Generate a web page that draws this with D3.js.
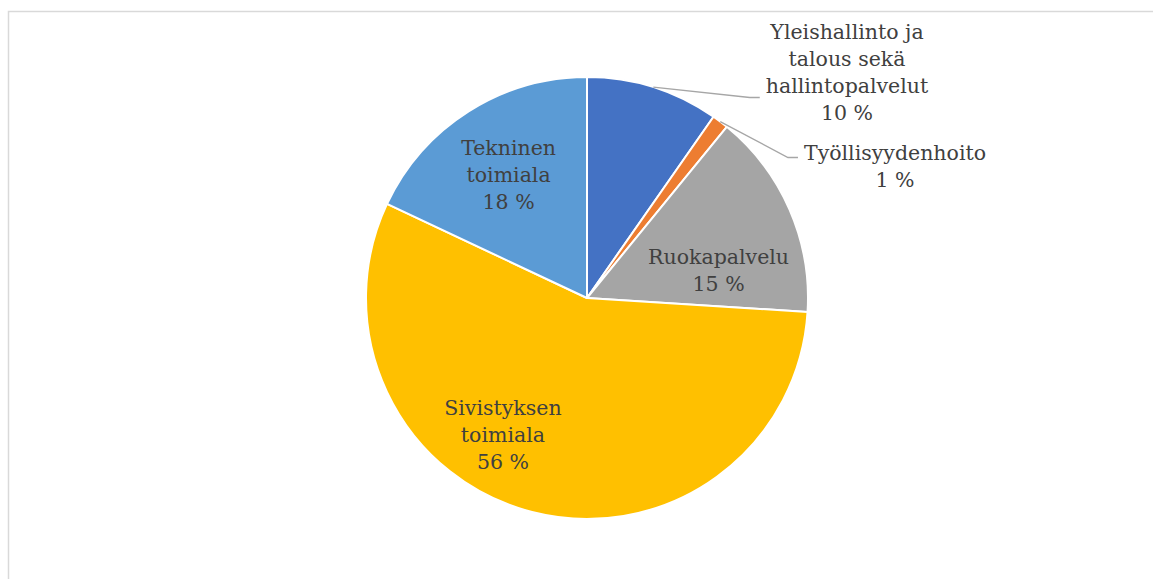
<!DOCTYPE html>
<html>
<head>
<meta charset="utf-8">
<script src="https://cdn.jsdelivr.net/npm/d3@7"></script>
<style>
  html, body { margin: 0; padding: 0; background: #fff; }
  svg { display: block; }
</style>
</head>
<body>
<svg id="chart" width="1153" height="579"></svg>
<script>
// data (share of total, %)
const categories = ["Yleishallinto ja talous sekä hallintopalvelut", "Työllisyydenhoito", "Ruokapalvelu", "Sivistyksen toimiala", "Tekninen toimiala"];
const values = [9.7, 1.2, 15.1, 56.0, 18.0];
const labelLines = [
  ["Yleishallinto ja", "talous sekä", "hallintopalvelut"],
  ["Työllisyydenhoito"],
  ["Ruokapalvelu"],
  ["Sivistyksen", "toimiala"],
  ["Tekninen", "toimiala"]
];
const colors = ["#4472C4", "#ED7D31", "#A5A5A5", "#FFC000", "#5B9BD5"];
const outside = [true, true, false, false, false];

const svg = d3.select("#chart"),
      W = 1153, H = 579,
      cx = 587, cy = 298, radius = 221;

// chart area border (only top and left show in the crop)
svg.append("path")
  .attr("d", `M8.5,${H} V11.5 H${W}`)
  .attr("fill", "none")
  .attr("stroke", "#d9d9d9")
  .attr("stroke-width", 1.5);

const g = svg.append("g").attr("transform", `translate(${cx},${cy})`);

const pie = d3.pie().sort(null).value(d => d)(values);
const arc = d3.arc().innerRadius(0).outerRadius(radius);
const labelArc = d3.arc().innerRadius(radius * 0.62).outerRadius(radius * 0.62);

g.selectAll("path.slice")
  .data(pie)
  .enter().append("path")
  .attr("class", "slice")
  .attr("d", arc)
  .attr("fill", (d, i) => colors[i])
  .attr("stroke", "#fff")
  .attr("stroke-width", 2)
  .attr("stroke-linejoin", "round");

const fmt = v => Math.round(v) + " %";
const font = "'DejaVu Serif', Georgia, serif";
const fontSize = 20.5, lineH = 27;

// nudges of inside labels from the centroid, Excel-style best fit
const insideNudge = [null, null, [6, 27], [-50, 4], [-5, -8]];
// outside label centre (relative to pie centre) and leader elbow
const outsideSpot = [[260, -226], [308, -132]];
const elbowDrop = [12, 5];
const elbowGap = 10;

pie.forEach((d, i) => {
  const lines = labelLines[i].concat([fmt(values[i])]);
  let x, y;
  if (outside[i]) {
    [x, y] = outsideSpot[i];
  } else {
    const c = labelArc.centroid(d);
    x = c[0] + insideNudge[i][0];
    y = c[1] + insideNudge[i][1];
  }
  const t = g.append("text")
    .attr("text-anchor", "middle")
    .attr("font-family", font)
    .attr("font-size", fontSize)
    .attr("fill", "#404040");
  const y0 = y - (lines.length - 1) * lineH / 2;
  lines.forEach((s, k) => {
    t.append("tspan")
      .attr("x", x)
      .attr("y", y0 + k * lineH)
      .attr("dy", "0.35em")
      .text(s);
  });

  if (outside[i]) {
    const mid = (d.startAngle + d.endAngle) / 2;
    const p0 = [Math.sin(mid) * radius, -Math.cos(mid) * radius];
    const bb = t.node().getBBox();
    // leader meets the label on its left, level with the line just above the value
    const ey = y0 + (lines.length - 2) * lineH + elbowDrop[i];
    const ex = bb.x - 6;
    g.append("polyline")
      .attr("points", [p0, [ex - elbowGap, ey], [ex, ey]].map(p => p.join(",")).join(" "))
      .attr("fill", "none")
      .attr("stroke", "#a6a6a6")
      .attr("stroke-width", 1.3);
  }
});
</script>
</body>
</html>
